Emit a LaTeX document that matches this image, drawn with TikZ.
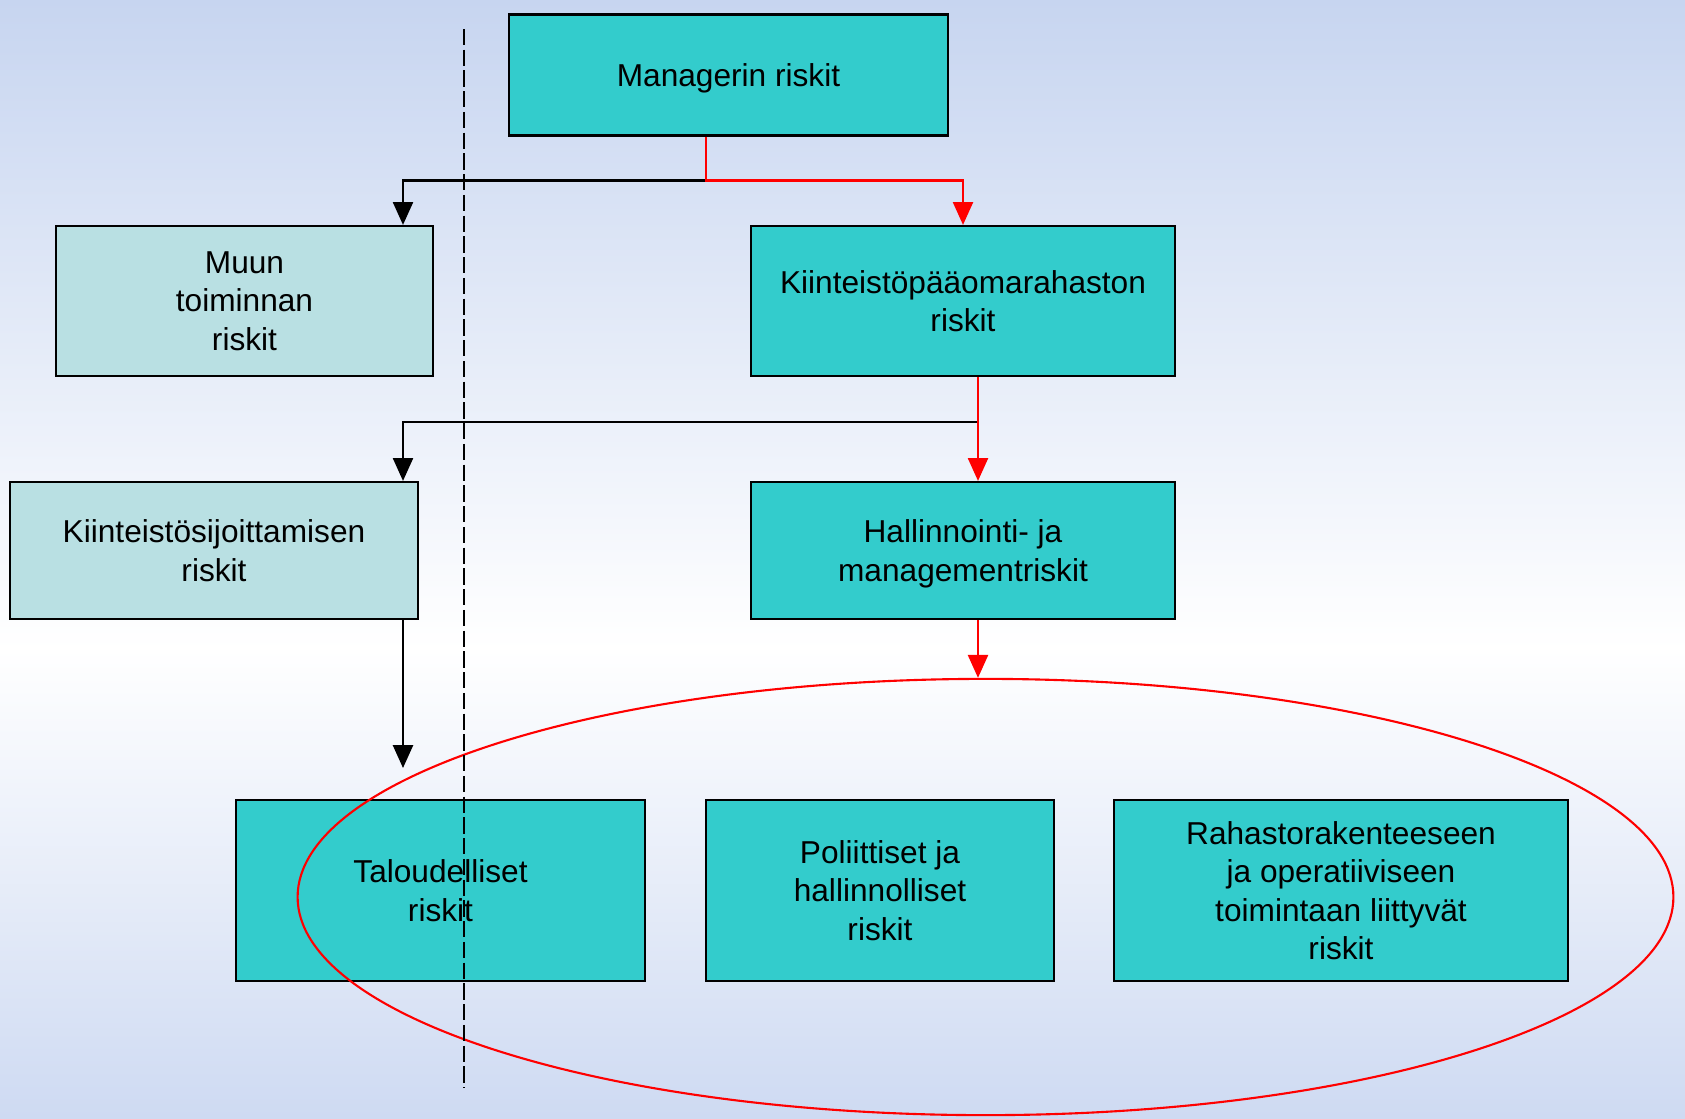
\documentclass[tikz,border=0pt]{standalone}
\usepackage{fontspec}
\setmainfont{Liberation Sans}
\usepackage{tikz}
\usetikzlibrary{arrows.meta,shapes.geometric}
\definecolor{teal}{RGB}{51,204,204}
\definecolor{pale}{RGB}{185,224,227}
\definecolor{bgblue}{RGB}{199,213,240}
\definecolor{bgblue2}{RGB}{206,218,242}

\begin{document}
\begin{tikzpicture}[x=0.01cm,y=-0.01cm,
        box/.style={draw=black, line width=0.6pt, fill=teal, align=center, inner sep=0pt,
                    text depth=0pt, font=\fontsize{9}{10.9}\selectfont},
        palebox/.style={box, fill=pale},
        arr/.style={line width=0.6pt, -{Triangle[width=5.7pt,length=6.5pt]}},
        redarr/.style={arr, red}]
            \useasboundingbox (0,0) rectangle (1685,1118);
            % background
            \shade[top color=bgblue, bottom color=white] (0,0) rectangle (1685,650);
            \shade[top color=white, bottom color=bgblue2] (0,649) rectangle (1685,1118);
            % boxes
            \node[box, minimum width=4.39cm, minimum height=1.21cm] (mgr) at (728.5,75) {Managerin riskit};
            \node[palebox, minimum width=3.77cm, minimum height=1.5cm] (muun) at (244.5,301) {Muun\\toiminnan\\riskit};
            \node[box, minimum width=4.24cm, minimum height=1.5cm] (kpr) at (963,301) {Kiinteistöpääomarahaston\\riskit};
            \node[palebox, minimum width=4.08cm, minimum height=1.37cm] (ksij) at (214,550.5) {Kiinteistösijoittamisen\\riskit};
            \node[box, minimum width=4.24cm, minimum height=1.37cm] (hall) at (963,550.5) {Hallinnointi- ja\\managementriskit};
            \node[box, minimum width=4.09cm, minimum height=1.81cm] (talo) at (440.5,890.5) {Taloudelliset\\riskit};
            \node[box, minimum width=3.48cm, minimum height=1.81cm] (poli) at (880,890.5) {Poliittiset ja\\hallinnolliset\\riskit};
            \node[box, minimum width=4.54cm, minimum height=1.81cm] (raha) at (1341,890.5) {Rahastorakenteeseen\\ja operatiiviseen\\toimintaan liittyvät\\riskit};
            \node[draw=red, line width=0.6pt, ellipse, minimum width=13.75cm, minimum height=4.36cm, inner sep=0pt] (grp) at (985.5,897) {};
            % connectors
            \coordinate (xl) at (403,0);
            \coordinate (s1) at (706,180.5);
            \coordinate (s2) at (978,422);
            \coordinate (e1) at (403,768);
            \draw[arr] (s1) -| (xl |- muun.north);
            \draw[redarr] (mgr.south -| s1) -- (s1) -| (kpr.north);
            \draw[arr] (s2) -| (xl |- ksij.north);
            \draw[redarr] (kpr.south -| s2) -- (hall.north -| s2);
            \draw[redarr] (hall.south -| s2) -- (grp.north -| s2);
            \draw[arr] (ksij.south -| xl) -- (e1);
            % dashed divider
            \draw[line width=0.65pt, dash pattern=on 4.6pt off 1.3pt] (464,29) -- (464,1088);
        \end{tikzpicture}
\end{document}
